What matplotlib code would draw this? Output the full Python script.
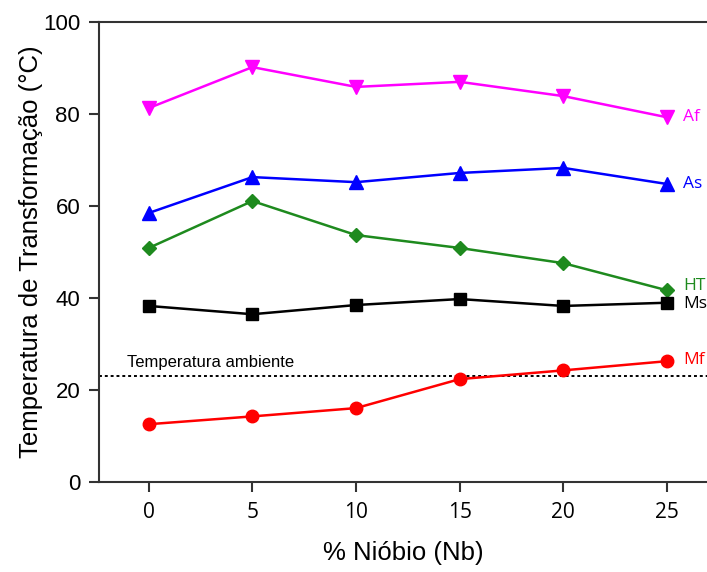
import numpy as np
from matplotlib import pyplot as plt

# data
nb = [0, 5, 10, 15, 20, 25]
af = [81.3, 90.2, 85.9, 87.0, 83.9, 79.3]
a_s = [58.5, 66.3, 65.2, 67.2, 68.3, 64.8]
ht = [50.9, 61.1, 53.7, 50.9, 47.6, 41.7]
ms = [38.3, 36.5, 38.5, 39.8, 38.3, 39.0]
mf = [12.6, 14.3, 16.1, 22.4, 24.3, 26.3]
t_amb = 23.0
yticks = [0, 20, 40, 60, 80, 100]

series = [
    ("Af", af, "#ff00ff", "v", 9.5),
    ("As", a_s, "#0000ff", "^", 9.5),
    ("HT", ht, "#1e8a1e", "D", 7.5),
    ("Ms", ms, "#000000", "s", 8.5),
    ("Mf", mf, "#ff0000", "o", 9),
]
label_off = {"Af": 0, "As": 0, "HT": 1.0, "Ms": -0.3, "Mf": 0.2}

fig = plt.figure(figsize=(7.07, 5.72), dpi=100)
ax = fig.add_axes([0.140, 0.157, 0.86, 0.8045])

for name, vals, col, mk, msz in series:
    ax.plot(nb, vals, color=col, marker=mk, markersize=msz, linewidth=1.8, zorder=3)
    ax.text(25.77, vals[-1] + label_off[name], name, color=col, fontsize=12.5,
            family="Open Sans", va="center", ha="left")

ax.axhline(t_amb, color="black", linestyle=(0, (1.5, 1.5)), linewidth=1.4, zorder=2)
ax.text(-1.05, t_amb + 1.3, "Temperatura ambiente", fontsize=12, family="Liberation Sans",
        va="bottom", ha="left")

ax.set_xlim(-2.4, 26.93)
ax.set_ylim(0, 100)
ax.set_xticks(nb, labels=[str(v) for v in nb], fontsize=15, fontfamily="Open Sans")
ax.set_yticks(yticks, labels=[str(v) for v in yticks], fontsize=16,
              fontfamily="Liberation Sans")
ax.tick_params(length=7, width=1.5, color="#333333")
ax.tick_params(axis="x", pad=7)
ax.tick_params(axis="y", pad=6.5)
ax.spines["right"].set_visible(False)
for s in ["left", "top", "bottom"]:
    ax.spines[s].set_linewidth(1.5)
    ax.spines[s].set_color("#333333")

ax.set_xlabel("% Nióbio (Nb)", fontsize=18.5, family="Liberation Sans", labelpad=13)
ax.set_ylabel("Temperatura de Transformação (°C)", fontsize=18.5, family="Liberation Sans",
              labelpad=0)

fig.savefig("out.png", dpi=100)
